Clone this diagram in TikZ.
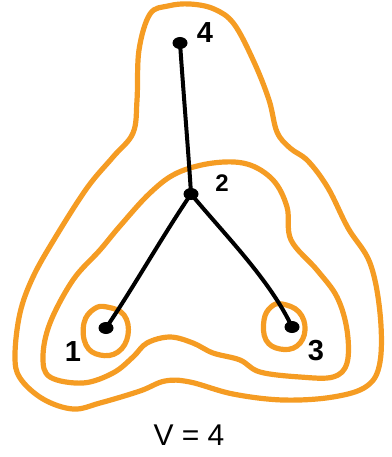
\documentclass[tikz,border=0pt]{standalone}
\usepackage{fontspec}
\setmainfont{Liberation Sans}
\usetikzlibrary{shapes.geometric}
\definecolor{hlorange}{RGB}{245,156,35}
\begin{document}
\begin{tikzpicture}[x=1pt,y=-1pt,
  vdot/.style={ellipse,fill=black,inner sep=0pt,minimum width=15pt,minimum height=12pt},
  edge/.style={line width=4pt,black,line cap=round},
  hull/.style={line width=5.2pt,hlorange,line join=round},
  lbl/.style={font=\bfseries\fontsize{29}{31}\selectfont,inner sep=0pt}]
\useasboundingbox (0,0) rectangle (391,457);
% outer hull
\draw[hull] plot[smooth cycle,tension=0.6] coordinates{
 (150,14) (168,6) (190,4) (214,9) (234,24) (254,62) (269,100) (277,132)
 (290,148) (308,161) (328,188) (348,228) (370,263) (380,313) (380,362)
 (367,386) (333,397) (283,400) (233,394) (190,382) (165,381) (140,391)
 (100,403) (73,409) (43,399) (20,378) (15,355) (20,313) (33,277) (55,238)
 (87,188) (113,157) (133,133) (137,100) (139,50)};
% middle hull
\draw[hull] plot[smooth cycle,tension=0.6] coordinates{
 (150,193) (177,173) (213,163) (247,164) (273,180) (287,207) (291,240)
 (317,270) (337,297) (347,330) (347,363) (333,377) (300,377) (260,372)
 (240,360) (213,353) (193,343) (170,337) (147,343) (133,357) (113,373)
 (83,383) (50,377) (43,357) (50,323) (73,280) (100,250) (120,226)};
% small hulls
\draw[hull] plot[smooth cycle,tension=0.7] coordinates{
 (107,307) (124,315) (128,335) (118,352) (100,355) (86,345) (84,323) (94,309)};
\draw[hull] plot[smooth cycle,tension=0.7] coordinates{
 (282,304) (299,312) (305,330) (297,346) (280,349) (266,340) (264,320) (271,307)};
% vertices
\node[vdot] (v4) at (180,43) {};
\node[vdot] (v2) at (191,194) {};
\node[vdot] (v1) at (106,328) {};
\node[vdot] (v3) at (292,327) {};
% edges
\draw[edge] (v4.center) .. controls (184,100) and (189,160) .. (v2.center);
\draw[edge] (v2.center) .. controls (160,240) and (135,285) .. (v1.center);
\draw[edge] (v2.center) .. controls (225,235) and (270,280) .. (v3.center);
% labels
\node[lbl] (l4) at (205,33) {4};
\node[lbl,font=\bfseries\fontsize{24}{26}\selectfont] (l2) at (222,183) {2};
\node[lbl] (l1) at (73,352) {1};
\node[lbl] (l3) at (316,351) {3};
\node[lbl,font=\fontsize{30}{32}\selectfont] (lv) at (189,435) {V = 4};
\end{tikzpicture}
\end{document}
